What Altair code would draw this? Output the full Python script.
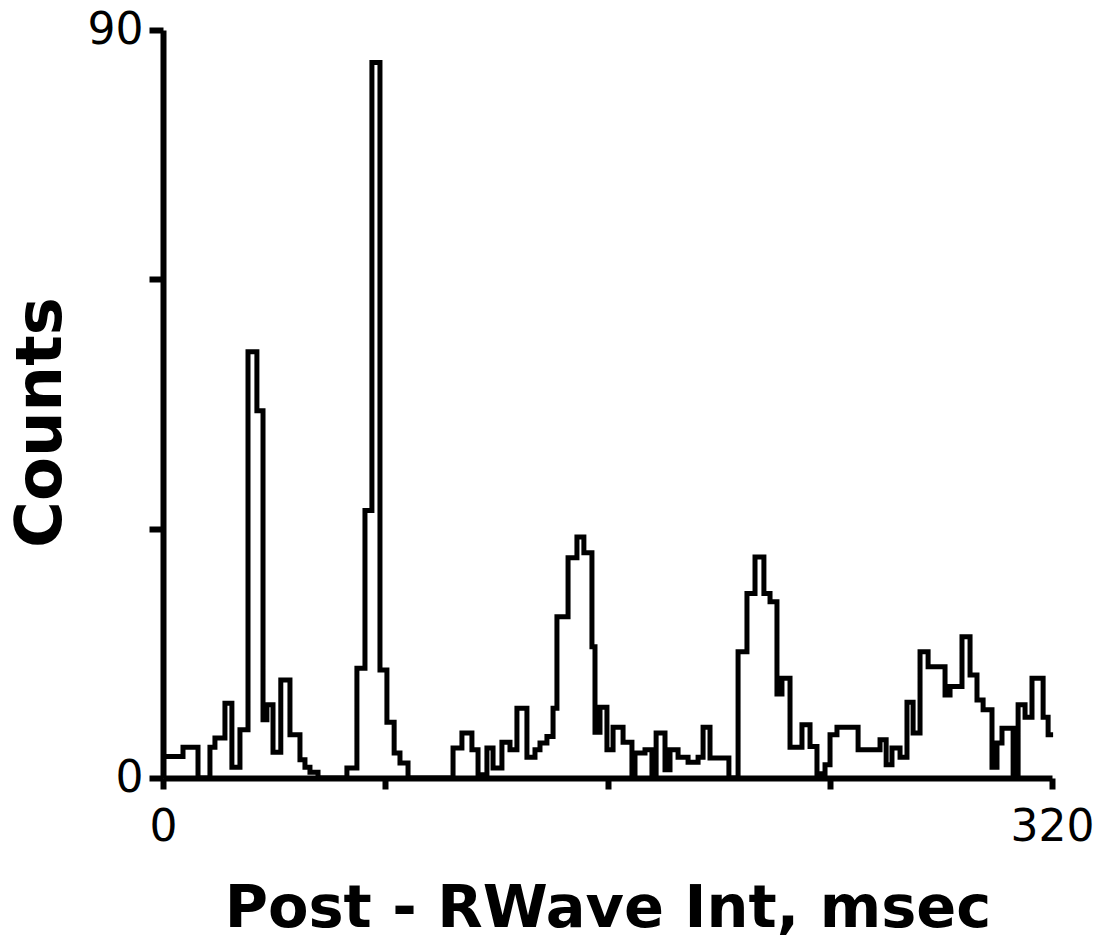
import altair as alt
import pandas as pd

# Left edge of each histogram step (msec) and its count
edges = [
    0, 7.2, 12.6, 16.9, 18.7, 22.3, 24.8, 27.7, 30.6, 33.8,
    36.0, 37.4, 39.6, 42.4, 45.7, 49.3, 51.1, 52.9, 55.8, 66.2,
    69.8, 72.7, 75.2, 78.1, 80.6, 83.2, 85.3, 88.2, 104.4, 107.6,
    111.2, 113.4, 116.6, 118.8, 122.0, 124.9, 127.4, 131.0, 133.9, 135.7,
    138.2, 140.4, 141.8, 145.8, 149.0, 151.5, 154.4, 155.5, 157.3, 159.8,
    162.0, 165.6, 168.8, 169.9, 173.5, 176.0, 177.5, 180.7, 182.5, 185.4,
    189.0, 192.6, 194.4, 196.9, 203.7, 207.0, 210.2, 213.1, 216.3, 218.5,
    221.0, 222.8, 225.7, 230.0, 232.9, 235.4, 238.3, 240.1, 242.6, 250.2,
    258.1, 260.3, 262.4, 265.3, 267.8, 270.0, 272.5, 275.4, 281.5, 283.3,
    287.6, 290.5, 293.0, 295.2, 298.4, 300.2, 302.0, 306.0, 307.8, 310.3,
    312.8, 316.8, 318.6,
]
counts = [
    2.6, 3.7, 0, 3.7, 4.8, 9.0, 1.3, 5.8, 51.3, 44.2,
    7.0, 8.8, 3.1, 11.8, 5.2, 2.2, 1.3, 0.7, 0, 1.2,
    13.2, 32.2, 86.1, 13.0, 6.7, 3.0, 1.8, 0, 3.6, 5.4,
    3.4, 0.4, 3.6, 1.2, 4.3, 3.4, 8.4, 2.5, 3.4, 4.2,
    5.0, 8.4, 19.4, 26.5, 29.0, 27.1, 15.8, 5.5, 8.5, 3.4,
    6.1, 4.3, 0, 3.0, 3.4, 0, 5.4, 1.0, 3.4, 2.5,
    1.9, 2.5, 6.1, 2.4, 0, 15.2, 22.2, 26.6, 22.2, 21.2,
    10.1, 12.0, 3.7, 6.4, 3.8, 0.5, 1.6, 5.2, 6.1, 3.4,
    4.6, 1.6, 3.6, 2.5, 9.1, 5.4, 15.2, 13.4, 10.0, 11.0,
    17.0, 12.4, 9.4, 8.2, 1.3, 4.2, 6.0, 0, 8.8, 7.3,
    12.0, 7.3, 5.2,
]
last_edge = 320.4

x_ticks = [0, 80, 160, 240, 320]
y_ticks = [0, 30, 60, 90]

df = pd.DataFrame({
    "t": edges + [last_edge],
    "n": counts + [counts[-1]],
})

label_font = "DejaVu Sans"

chart = alt.Chart(df).mark_line(
    interpolate="step-after", color="black", strokeWidth=5
).encode(
    x=alt.X(
        "t:Q",
        scale=alt.Scale(domain=[0, 320], nice=False, zero=False),
        axis=alt.Axis(
            values=x_ticks,
            labelExpr="datum.value == 0 || datum.value == 320 ? datum.label : ''",
            title="Post - RWave Int, msec",
            titleFontSize=59,
            tickSize=11,
            labelPadding=16,
            titlePadding=30,
        ),
    ),
    y=alt.Y(
        "n:Q",
        scale=alt.Scale(domain=[0, 90], nice=False),
        axis=alt.Axis(
            values=y_ticks,
            labelExpr="datum.value == 0 || datum.value == 90 ? datum.label : ''",
            title="Counts",
            titleFontSize=64,
            titleY=392,
            tickSize=14,
            labelPadding=6,
            titlePadding=14,
        ),
    ),
).properties(
    width=889,
    height=748,
    background="white",
    autosize=alt.AutoSizeParams(type="none"),
    padding={"left": 163, "top": 30, "right": 55, "bottom": 173},
).configure_view(
    stroke=None
).configure_axis(
    grid=False,
    domainColor="black",
    domainWidth=6,
    tickColor="black",
    tickWidth=6,
    labelColor="black",
    labelFont=label_font,
    labelFontSize=44,
    labelFlush=False,
    labelOverlap=False,
    titleColor="black",
    titleFont=label_font,
    titleFontWeight="bold",
)

chart.save("out.html", embed_options={"renderer": "svg", "actions": False})
